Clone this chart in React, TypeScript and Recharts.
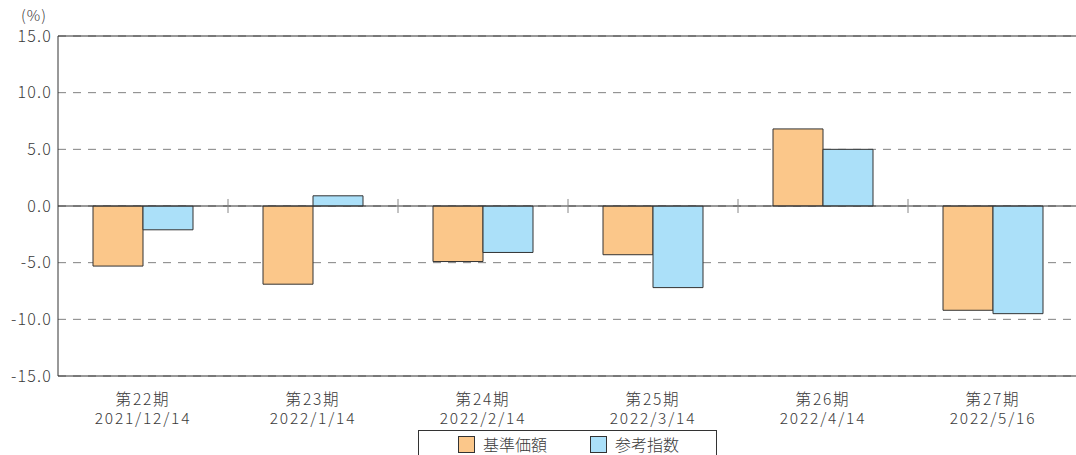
import {
  BarChart,
  Bar,
  XAxis,
  YAxis,
  CartesianGrid,
  ReferenceLine,
} from 'recharts'

const periods = ['第22期', '第23期', '第24期', '第25期', '第26期', '第27期']
const dates = ['2021/12/14', '2022/1/14', '2022/2/14', '2022/3/14', '2022/4/14', '2022/5/16']
const navValues = [-5.3, -6.9, -4.9, -4.3, 6.8, -9.2]
const benchValues = [-2.1, 0.9, -4.1, -7.2, 5.0, -9.5]
const yTicks = [-15, -10, -5, 0, 5, 10, 15]
const seriesNames = ['基準価額', '参考指数']
const seriesColors = ['#fbc78a', '#abe0f9']

const FONT = '"Noto Sans CJK JP", "Noto Sans", sans-serif'
const TEXT = '#3a3a3a'

const data = periods.map((p, i) => ({
  period: p,
  nav: navValues[i],
  bench: benchValues[i],
}))

// short ticks on the zero line at the left edge of every period after the first
const boundaries = periods.slice(1)

// eslint-disable-next-line @typescript-eslint/no-explicit-any
function PeriodTick({ x, y, payload }: any) {
  return (
    <g fill={TEXT} fontSize={15.5} fontWeight={300} letterSpacing={1.8} fontFamily={FONT}>
      <text x={x} y={y + 20.5} textAnchor="middle">
        {payload.value}
      </text>
      <text x={x} y={y + 39.5} textAnchor="middle">
        {dates[payload.index]}
      </text>
    </g>
  )
}

function LegendBox() {
  return (
    <div
      style={{
        position: 'absolute',
        left: 418,
        top: 430,
        width: 299,
        height: 40,
        border: '1px solid #333',
        boxSizing: 'border-box',
        fontFamily: FONT,
        fontWeight: 300,
        fontSize: 16,
        color: TEXT,
      }}
    >
      {seriesNames.map((name, i) => (
        <div
          key={name}
          style={{
            position: 'absolute',
            left: i === 0 ? 39 : 171,
            top: 1,
            display: 'flex',
            alignItems: 'center',
            whiteSpace: 'nowrap',
          }}
        >
          <span
            style={{
              display: 'inline-block',
              width: 15,
              height: 15,
              background: seriesColors[i],
              border: '1px solid #333',
              marginRight: 8,
            }}
          />
          {name}
        </div>
      ))}
    </div>
  )
}

export default function App() {
  return (
    <div
      style={{
        position: 'absolute',
        left: 0,
        top: 0,
        width: 1076,
        height: 455,
        overflow: 'hidden',
        background: '#fff',
      }}
    >
      <div
        style={{
          position: 'absolute',
          left: 21,
          top: 7,
          fontFamily: FONT,
          fontWeight: 300,
          fontSize: 15,
          lineHeight: '15px',
          letterSpacing: 1,
          color: TEXT,
        }}
      >
        (%)
      </div>
      <BarChart
        width={1078}
        height={455}
        data={data}
        margin={{ top: 36, right: 0, bottom: 0, left: 0 }}
        barCategoryGap={35}
        barGap={0}
      >
        <CartesianGrid vertical={false} stroke="#808080" strokeDasharray="8 7" />
        <XAxis
          dataKey="period"
          height={79}
          axisLine={{ stroke: '#333' }}
          tickLine={false}
          tick={<PeriodTick />}
          interval={0}
        />
        <YAxis
          width={58}
          domain={[-15, 15]}
          ticks={yTicks}
          tickFormatter={(v) => v.toFixed(1)}
          axisLine={{ stroke: '#333' }}
          tickLine={false}
          tickSize={0}
          tickMargin={6}
          tick={{ fill: TEXT, fontSize: 16, fontWeight: 300, fontFamily: FONT, letterSpacing: 1.2 }}
        />
        <ReferenceLine y={15} stroke="#333" />
        <ReferenceLine y={0} stroke="#333" />
        {boundaries.map((b) => (
          <ReferenceLine
            key={b}
            position="start"
            segment={[
              { x: b, y: -0.62 },
              { x: b, y: 0.62 },
            ]}
            stroke="#888"
          />
        ))}
        <Bar
          dataKey="nav"
          name={seriesNames[0]}
          fill={seriesColors[0]}
          stroke="#333"
          strokeWidth={1}
          isAnimationActive={false}
        />
        <Bar
          dataKey="bench"
          name={seriesNames[1]}
          fill={seriesColors[1]}
          stroke="#333"
          strokeWidth={1}
          isAnimationActive={false}
        />
      </BarChart>
      <LegendBox />
    </div>
  )
}
